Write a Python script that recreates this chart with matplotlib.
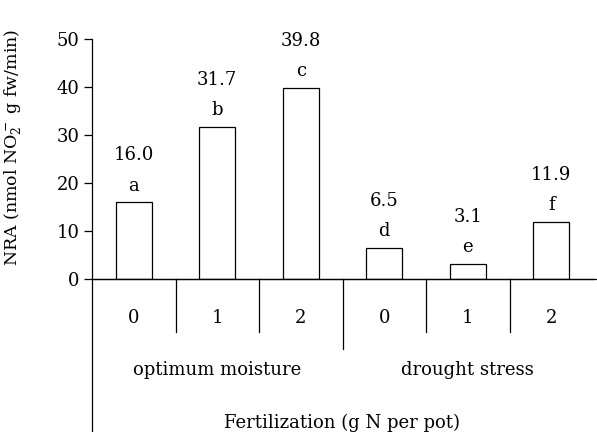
import matplotlib
matplotlib.use("Agg")
import matplotlib.pyplot as plt
from matplotlib.lines import Line2D

# Data
treatments = ["0", "1", "2", "0", "1", "2"]
groups = ["optimum moisture", "drought stress"]
nra = [16.0, 31.7, 39.8, 6.5, 3.1, 11.9]
letters = ["a", "b", "c", "d", "e", "f"]

plt.rcParams['font.family'] = ['DejaVu Serif']
plt.rcParams['mathtext.fontset'] = 'dejavuserif'
plt.rcParams['font.size'] = 13

W, H = 597, 432
fig = plt.figure(figsize=(W / 100, H / 100), dpi=100)
ax = fig.add_axes([92 / W, 1 - 279 / H, (593 - 92) / W, 240 / H])

x = [i + 0.5 for i in range(len(nra))]
ax.bar(x, nra, width=0.43, color='white', edgecolor='black', linewidth=0.9)

for xi, v, l in zip(x, nra, letters):
    ax.annotate(l, (xi, v), xytext=(0, 12), textcoords='offset points',
                ha='center', va='center')
    ax.annotate(f"{v:.1f}", (xi, v), xytext=(0, 34), textcoords='offset points',
                ha='center', va='center')

ax.set_xlim(0, 6)
ax.set_ylim(0, 50)
ax.set_yticks(range(0, 51, 10))
ax.set_xticks([])
ax.spines['top'].set_visible(False)
ax.spines['right'].set_visible(False)
ax.spines['left'].set_linewidth(0.9)
ax.spines['bottom'].set_linewidth(0.9)
ax.tick_params(axis='y', direction='out', length=6, width=0.9, pad=3)

ax.set_ylabel("NRA (nmol NO$_2^-$ g fw/min)", fontsize=12.5)
ax.yaxis.set_label_coords(-0.135, 0.55)

# category area below the axis
per = 240 / 50  # px per data unit
def ypx(px):
    return -px / per

# y-axis extension down to bottom
ax.add_line(Line2D([0, 0], [0, ypx(H - 279)], color='black', lw=0.9, clip_on=False))
# short separators
for s in [1, 2, 4, 5]:
    ax.add_line(Line2D([s, s], [0, ypx(53)], color='black', lw=0.9, clip_on=False))
# long separator between groups
ax.add_line(Line2D([3, 3], [0, ypx(70)], color='black', lw=0.9, clip_on=False))
# extend bottom axis line to right edge
ax.add_line(Line2D([0, 6.05], [0, 0], color='black', lw=0.9, clip_on=False))

for xi, t in zip(x, treatments):
    ax.text(xi, ypx(39), t, ha='center', va='center')
for gi, g in enumerate(groups):
    ax.text(1.5 + 3 * gi, ypx(91), g, ha='center', va='center')

fig.text((92 + 593) / 2 / W, 1 - 423 / H, "Fertilization (g N per pot)",
         ha='center', va='center')

fig.savefig("out.png", dpi=100)
